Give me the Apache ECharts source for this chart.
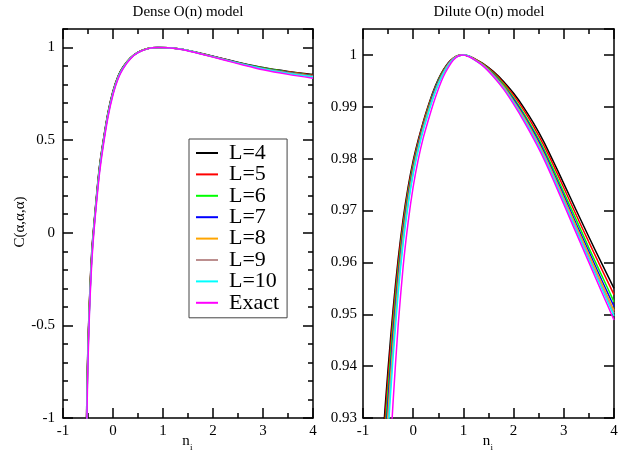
<!DOCTYPE html>
<html>
<head>
<meta charset="utf-8">
<script src="https://cdn.jsdelivr.net/npm/echarts@6/dist/echarts.min.js"></script>
<style>html,body{margin:0;padding:0;background:#fff;}#c{width:623px;height:453px;}</style>
</head>
<body>
<div id="c"></div>
<script>
// ---------- data ----------
const seriesNames = ['L=4','L=5','L=6','L=7','L=8','L=9','L=10','Exact'];

const nDense = [-0.55,-0.53,-0.51,-0.49,-0.47,-0.45,-0.42,-0.38,-0.33,-0.27,-0.2,-0.1,0,0.1,0.2,0.35,0.5,0.7,0.9,1.1,1.4,1.8,2.2,2.6,3.0,3.5,4.0];
const denseL4 = [-1.25,-1.0,-0.70,-0.51,-0.36,-0.23,-0.08,0.05,0.20,0.36,0.49,0.65,0.765,0.845,0.895,0.945,0.975,0.995,1.0,0.999,0.99,0.966,0.94,0.914,0.892,0.871,0.854];
const denseL5 = [-1.29,-1.02,-0.72,-0.52,-0.37,-0.24,-0.09,0.044,0.194,0.354,0.4855,0.646,0.762,0.843,0.8935,0.944,0.975,0.995,1.0,0.999,0.990,0.965,0.939,0.913,0.890,0.869,0.851];
const denseL6 = [-1.32,-1.04,-0.73,-0.54,-0.38,-0.25,-0.097,0.039,0.189,0.349,0.482,0.643,0.759,0.841,0.892,0.944,0.974,0.995,1.0,0.999,0.989,0.965,0.938,0.912,0.889,0.867,0.848];
const denseL7 = [-1.35,-1.06,-0.75,-0.54,-0.39,-0.26,-0.103,0.035,0.185,0.345,0.479,0.6405,0.757,0.839,0.891,0.943,0.974,0.995,1.0,0.999,0.989,0.964,0.938,0.911,0.887,0.865,0.846];
const denseL8 = [-1.37,-1.07,-0.76,-0.55,-0.39,-0.26,-0.109,0.031,0.181,0.341,0.476,0.638,0.755,0.838,0.890,0.943,0.974,0.995,1.0,0.999,0.989,0.964,0.937,0.910,0.886,0.863,0.844];
const denseL9 = [-1.39,-1.09,-0.77,-0.56,-0.40,-0.27,-0.114,0.027,0.177,0.337,0.473,0.636,0.754,0.836,0.889,0.942,0.973,0.994,1.0,0.999,0.989,0.964,0.937,0.909,0.885,0.862,0.843];
const denseL10 = [-1.42,-1.10,-0.78,-0.57,-0.41,-0.28,-0.12,0.024,0.174,0.334,0.470,0.6335,0.752,0.835,0.888,0.942,0.973,0.994,1.0,0.999,0.989,0.963,0.936,0.909,0.884,0.860,0.841];
const denseExact = [-1.5,-1.15,-0.82,-0.60,-0.43,-0.30,-0.14,0.01,0.16,0.32,0.46,0.625,0.745,0.83,0.885,0.94,0.972,0.994,1.0,0.999,0.988,0.962,0.934,0.906,0.88,0.855,0.834];

const nDilute = [-0.7,-0.6,-0.5,-0.4,-0.3,-0.2,-0.1,0,0.1,0.2,0.3,0.4,0.5,0.6,0.7,0.8,0.9,1.0,1.1,1.2,1.4,1.6,1.8,2.0,2.2,2.4,2.6,2.8,3.0,3.25,3.5,3.75,4.0];
const diluteL4 = [0.9116,0.9266,0.9396,0.951,0.9606,0.9684,0.9746,0.9796,0.9836,0.9871,0.9902,0.993,0.9953,0.9971,0.9985,0.9994,0.9999,1.0,0.9998,0.9994,0.9983,0.9968,0.9949,0.9926,0.9899,0.9868,0.9833,0.9793,0.9752,0.9700,0.9649,0.9599,0.9550];
const diluteL5 = [0.9088,0.9242,0.9377,0.9496,0.9596,0.9677,0.9741,0.9792,0.9833,0.9869,0.9900,0.9928,0.9951,0.9970,0.9984,0.9994,0.9999,1.0,0.9998,0.9994,0.9982,0.9966,0.9946,0.9922,0.9894,0.9862,0.9826,0.9786,0.9744,0.9691,0.9639,0.9588,0.9538];
const diluteL6 = [0.9052,0.9213,0.9354,0.9478,0.9583,0.9667,0.9734,0.9787,0.9829,0.9865,0.9897,0.9926,0.9950,0.9969,0.9983,0.9993,0.9999,1.0,0.9998,0.9993,0.9981,0.9964,0.9943,0.9917,0.9888,0.9855,0.9819,0.9778,0.9735,0.9682,0.9628,0.9576,0.9524];
const diluteL7 = [0.9020,0.9187,0.9333,0.9462,0.9571,0.9659,0.9728,0.9782,0.9826,0.9863,0.9894,0.9924,0.9948,0.9967,0.9983,0.9993,0.9999,1.0,0.9998,0.9993,0.9980,0.9962,0.9940,0.9914,0.9884,0.9851,0.9814,0.9772,0.9729,0.9674,0.9621,0.9567,0.9515];
const diluteL8 = [0.8989,0.9160,0.9312,0.9446,0.9560,0.9651,0.9722,0.9778,0.9822,0.9860,0.9892,0.9921,0.9946,0.9966,0.9982,0.9993,0.9999,1.0,0.9998,0.9993,0.9980,0.9961,0.9939,0.9911,0.9881,0.9847,0.9810,0.9768,0.9724,0.9669,0.9615,0.9561,0.9507];
const diluteL9 = [0.8960,0.9137,0.9293,0.9432,0.9550,0.9644,0.9716,0.9774,0.9819,0.9857,0.9890,0.9919,0.9945,0.9965,0.9981,0.9992,0.9999,1.0,0.9998,0.9992,0.9979,0.9960,0.9937,0.9909,0.9878,0.9844,0.9807,0.9765,0.9720,0.9665,0.9610,0.9556,0.9502];
const diluteL10 = [0.8932,0.9113,0.9274,0.9417,0.9539,0.9636,0.9711,0.9770,0.9816,0.9855,0.9887,0.9918,0.9943,0.9964,0.9980,0.9992,0.9998,1.0,0.9998,0.9992,0.9979,0.9959,0.9936,0.9908,0.9876,0.9842,0.9804,0.9762,0.9717,0.9662,0.9606,0.9551,0.9497];
const diluteExact = [0.8762,0.8972,0.9162,0.9332,0.9478,0.9592,0.9678,0.9746,0.9798,0.9840,0.9874,0.9906,0.9934,0.9958,0.9976,0.9990,0.9998,1.0,0.9997,0.9992,0.9978,0.9958,0.9934,0.9905,0.9873,0.9838,0.9800,0.9757,0.9712,0.9656,0.9600,0.9544,0.9489];

const xTicks = [-1,0,1,2,3,4];
const denseYTicks = [-1,-0.5,0,0.5,1];
const diluteYTicks = [0.93,0.94,0.95,0.96,0.97,0.98,0.99,1];

// ---------- styling ----------
const FONT = 'Liberation Serif';
const colors = ['#000000','#ff0000','#00ff00','#0000ff','#ffa500','#bc8f8f','#00ffff','#ff00ff'];
const denseSets = [denseL4,denseL5,denseL6,denseL7,denseL8,denseL9,denseL10,denseExact];
const diluteSets = [diluteL4,diluteL5,diluteL6,diluteL7,diluteL8,diluteL9,diluteL10,diluteExact];

const black = {color:'#000', width:1.5};
function xAx(grid, pos, labels){
  return {type:'value', gridIndex:grid, position:pos,
    min:xTicks[0], max:xTicks[xTicks.length-1], interval:1,
    axisLine:{show:true, onZero:false, lineStyle:black},
    axisTick:{show:true, inside:true, length:10, lineStyle:black},
    minorTick:{show:true, splitNumber:2, length:5, lineStyle:black},
    axisLabel:{show:labels, margin:6, color:'#000', fontFamily:FONT, fontSize:15},
    splitLine:{show:false}, minorSplitLine:{show:false}};
}
function yAx(grid, pos, min, max, interval, labels, line, tickLen, margin){
  return {type:'value', gridIndex:grid, position:pos, min:min, max:max, interval:interval,
    axisLine:{show:line, onZero:false, lineStyle:black},
    axisTick:{show:true, inside:true, length:tickLen, lineStyle:black},
    axisLabel:{show:labels, margin:margin, color:'#000', fontFamily:FONT, fontSize:15, showMaxLabel:false, showMinLabel:true},
    splitLine:{show:false}};
}

const xAxes = [xAx(0,'bottom',true), xAx(0,'top',false), xAx(1,'bottom',true), xAx(1,'top',false)];
const yAxes = [
  yAx(0,'left', denseYTicks[0], 1.1, 0.5, true, true, 10, 8),
  yAx(0,'right', denseYTicks[0], 1.1, 0.5, false, true, 10, 8),
  yAx(0,'left', denseYTicks[0], 1.1, 0.1, false, false, 5, 8),
  yAx(0,'right', denseYTicks[0], 1.1, 0.1, false, false, 5, 8),
  yAx(1,'left', diluteYTicks[0], 1.005, 0.01, true, true, 10, 6),
  yAx(1,'right', diluteYTicks[0], 1.005, 0.01, false, true, 10, 6)
];

const series = [];
[[nDense, denseSets, 0, 0], [nDilute, diluteSets, 2, 4]].forEach(function(p){
  const xs = p[0], sets = p[1];
  sets.forEach(function(arr, k){
    series.push({type:'line', name:seriesNames[k], xAxisIndex:p[2], yAxisIndex:p[3],
      data: xs.map(function(x,i){return [x, arr[i]];}),
      symbol:'none', showSymbol:false, smooth:0.25, clip:true,
      lineStyle:{color:colors[k], width:1.5}, itemStyle:{color:colors[k]},
      animation:false, silent:true, z: 2 + k});
  });
});

const txt = function(o){ return Object.assign({fontFamily:FONT, fill:'#000'}, o); };

const option = {
  backgroundColor:'#fff',
  animation:false,
  textStyle:{fontFamily:FONT},
  grid:[
    {left:63, top:29, width:250, height:389},
    {left:363, top:29, width:251, height:389}
  ],
  xAxis:xAxes,
  yAxis:yAxes,
  legend:{
    data:seriesNames.map(function(n){return {name:n, icon:'rect'};}),
    orient:'vertical', left:189, top:139,
    padding:[3,8,4,7], itemGap:-0.6, itemWidth:22, itemHeight:2,
    borderColor:'#444', borderWidth:1, backgroundColor:'#fff',
    selectedMode:false,
    textStyle:{fontFamily:FONT, fontSize:22, color:'#000', lineHeight:20.4, padding:[0,0,0,6]}
  },
  graphic:[
    {type:'text', x:188, y:12, style:txt({text:'Dense O(n) model', fontSize:15, textAlign:'center', textVerticalAlign:'middle'})},
    {type:'text', x:489, y:12, style:txt({text:'Dilute O(n) model', fontSize:15, textAlign:'center', textVerticalAlign:'middle'})},
    {type:'text', x:20, y:222, rotation:Math.PI/2, style:txt({text:'C(\u03b1,\u03b1,\u03b1)', fontSize:15, textAlign:'center', textVerticalAlign:'middle'})},
    {type:'text', x:186, y:441, style:txt({text:'n', fontSize:15, textAlign:'center', textVerticalAlign:'middle'})},
    {type:'text', x:190, y:448, style:txt({text:'i', fontSize:9, textAlign:'left', textVerticalAlign:'middle'})},
    {type:'text', x:486.5, y:441, style:txt({text:'n', fontSize:15, textAlign:'center', textVerticalAlign:'middle'})},
    {type:'text', x:490.5, y:448, style:txt({text:'i', fontSize:9, textAlign:'left', textVerticalAlign:'middle'})}
  ],
  series:series
};

const chart = echarts.init(document.getElementById('c'), null, {renderer:'canvas'});
chart.setOption(option);
</script>
</body>
</html>
